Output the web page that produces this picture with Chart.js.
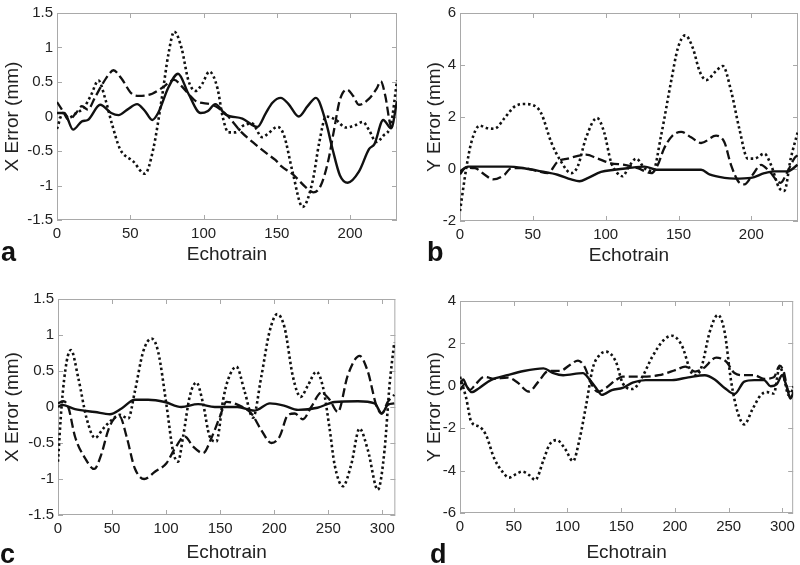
<!DOCTYPE html>
<html><head><meta charset="utf-8">
<script src="https://cdn.jsdelivr.net/npm/chart.js@4.4.1/dist/chart.umd.min.js"></script>
<style>
body{margin:0;background:#fff;width:800px;height:565px;position:relative;overflow:hidden;font-family:"Liberation Sans",Arial,sans-serif}
canvas{position:absolute}
.lbl{position:absolute;font-weight:bold;font-size:27px;color:#111;line-height:1}
</style></head><body>
<canvas id="ca" width="400" height="285" style="left:0;top:0"></canvas>
<canvas id="cb" width="400" height="285" style="left:400px;top:0"></canvas>
<canvas id="cc" width="400" height="280" style="left:0;top:285px"></canvas>
<canvas id="cd" width="400" height="280" style="left:400px;top:285px"></canvas>
<div class="lbl" style="left:1px;top:239px">a</div>
<div class="lbl" style="left:427px;top:239px">b</div>
<div class="lbl" style="left:0px;top:541px">c</div>
<div class="lbl" style="left:430px;top:541px">d</div>
<script>
// ---------- tick labels ----------
const xTicksAB = [0, 50, 100, 150, 200];
const xTicksCD = [0, 50, 100, 150, 200, 250, 300];
const yTicksX = [-1.5, -1, -0.5, 0, 0.5, 1, 1.5];
const yTicksB = [-2, 0, 2, 4, 6];
const yTicksD = [-6, -4, -2, 0, 2, 4];
const xLabel = "Echotrain";
const yLabelX = "X Error (mm)";
const yLabelY = "Y Error (mm)";

// ---------- panel a ----------
const aSolidX = [0,5,11,17,21,29.5,37,42,48,54.6,60,65,69,76,82.6,89.7,98,103,108,115,126.5,136.8,142.5,147,152.7,158,165,171,176.7,183.6,188,193,198.4,206,213,216.6,222.6,228,232];
const aSolidY = [0.05,0.05,-0.19,-0.07,-0.05,0.17,0.05,0.02,0.1,0.18,0.08,-0.05,0.05,0.42,0.62,0.33,0.05,0.08,0.18,0.03,-0.03,-0.15,0.05,0.2,0.27,0.18,0.0,0.15,0.27,-0.09,-0.47,-0.85,-0.96,-0.8,-0.47,-0.4,-0.05,-0.17,0.22];
const aDashX = [0,4,8,13,17,21,26,31,35,38.5,44,51,56,65,72,80,85,90,95,106,115,126,134,144,149,153,161,170,175,180,185,189,193,198,202,206,213,218,221,224,228,232];
const aDashY = [0.21,0.08,-0.05,0.05,0.15,0.1,0.28,0.47,0.6,0.67,0.55,0.33,0.3,0.33,0.42,0.53,0.44,0.32,0.22,0.17,0.04,-0.23,-0.38,-0.55,-0.63,-0.72,-0.84,-1.03,-1.1,-1.0,-0.65,-0.2,0.24,0.39,0.3,0.17,0.26,0.4,0.51,0.3,-0.14,-0.16];
const aDotX = [0,4,8,13,18,23,28.3,33,37.4,43,52,60,65.7,71.7,76,80,85,89.7,94.5,99,104,109.6,113,117,122,126.5,133,140,143.4,150.5,155,160.7,167.6,174.4,179,183.6,190.4,197,203,208.7,213,217.8,222.6,228,232];
const aDotY = [-0.18,0.05,-0.02,0.05,0.12,0.3,0.52,0.25,-0.1,-0.47,-0.65,-0.83,-0.47,0.29,0.9,1.23,0.99,0.52,0.37,0.47,0.65,0.4,0.0,-0.23,-0.23,-0.14,-0.1,-0.3,-0.26,-0.15,-0.28,-0.8,-1.31,-0.94,-0.37,0.0,-0.05,-0.16,-0.13,-0.08,-0.2,-0.37,-0.28,-0.1,0.52];

// ---------- panel b ----------
const bSolidX = [0,5.5,21,33,44,55.7,67,76.3,82,88,96.8,106,115,126.7,135,147,165.5,171.7,181.5,188.5,199.8,208.9,215.8,224.9,231.7];
const bSolidY = [-0.09,0.09,0.09,0.09,0.03,-0.09,-0.22,-0.4,-0.47,-0.34,-0.11,-0.03,0.03,0.09,-0.03,-0.03,-0.03,-0.22,-0.34,-0.37,-0.34,-0.16,-0.09,-0.09,0.16];
const bDashX = [0,4,10.3,17,22.6,30.6,35,44.3,53.4,60.3,67,74,86.5,94.5,103.6,113,122,131.3,135.8,140,145.8,151.8,158.6,165.5,175.8,181.5,186,191.8,195.2,200.9,206.6,212.3,220,224.9,229.4,231.7];
const bDashY = [-0.2,0.05,0.03,-0.22,-0.4,-0.22,0.03,0.03,-0.09,-0.16,0.28,0.4,0.55,0.4,0.22,0.16,0.03,-0.16,0.16,0.78,1.28,1.43,1.22,1.0,1.28,1.03,0.16,-0.53,-0.59,-0.22,0.16,-0.09,-0.53,-0.09,0.4,0.53];
const bDotX = [0,4.3,7.8,13.5,18,23.7,30.6,37.4,44.3,50,55.7,62.6,69.4,76.3,80.8,86.5,94,99,103.6,108,111.6,116,121,126.7,132.4,138,145,149.5,154.6,159.9,164.4,169,175.8,180.4,186,191.8,197.5,202,208.9,213.5,219,222.6,227,231.7];
const bDotY = [-1.62,0.03,1.03,1.67,1.58,1.55,1.96,2.4,2.5,2.46,2.15,1.03,0.28,-0.16,0.1,1.2,1.96,1.4,0.28,-0.16,-0.28,0.1,0.4,0.03,-0.09,1.28,3.4,4.64,5.14,4.64,3.77,3.42,3.77,3.96,3.02,1.53,0.4,0.4,0.59,0.15,-0.72,-0.84,0.4,1.4];

// ---------- panel c ----------
const cSolidX = [0,3.4,15.7,34.2,48,58.8,71,83.4,98.7,114,129.5,145,154,166,181.8,196,209,222,240,255.8,277.4,292.8,299.5,305,311];
const cSolidY = [0.0,0.03,-0.03,-0.07,-0.1,-0.02,0.1,0.1,0.07,0.0,0.04,0.0,0.0,0.0,-0.05,0.05,0.02,-0.04,-0.01,0.07,0.08,0.05,-0.09,0.03,0.05];
const cDashX = [0,5,9.5,15.7,25,33.5,40,46.5,52,57,63.4,71,79.7,89.6,100.3,108,117.3,125,134.2,141.9,149.6,155.8,166.4,178.8,188,197.3,205,212.7,218.9,226.5,234.2,243.5,251.2,258.8,268,278.9,286.6,294.3,299.5,305,311];
const cDashY = [0.05,0.08,0.0,-0.41,-0.71,-0.86,-0.66,-0.32,-0.16,-0.13,-0.41,-0.85,-1.0,-0.9,-0.78,-0.58,-0.41,-0.55,-0.64,-0.43,-0.14,0.07,0.03,-0.09,-0.32,-0.5,-0.41,-0.11,-0.09,-0.17,0.0,0.2,0.1,-0.07,0.44,0.71,0.49,0.03,-0.09,0.07,0.17];
const cDotX = [0,3.4,8,12,18.8,26.5,34.2,41.8,49.6,57.2,65,71,78.8,86.5,92.6,100.3,106.5,111,115.7,121.9,128,134,140.3,146.5,152.7,157.3,165,172.7,180.3,188,195.7,202.8,209.6,217.3,224.4,231.2,238.9,245,251.2,255.8,263.5,271.2,278.9,286.6,295.8,302,306.6,311];
const cDotY = [-0.76,0.03,0.63,0.79,0.4,-0.16,-0.43,-0.3,-0.18,-0.11,-0.16,0.21,0.77,0.95,0.77,0.03,-0.62,-0.76,-0.41,0.15,0.34,0.06,-0.41,-0.48,0.1,0.38,0.56,0.21,-0.15,0.42,1.05,1.29,1.1,0.42,0.14,0.3,0.49,0.28,-0.3,-0.8,-1.1,-0.8,-0.3,-0.6,-1.15,-0.6,0.3,0.9];

// ---------- panel d ----------
const dSolidX = [0,3,6,11,18,28.7,44,59.3,77.7,86.9,96,114.4,120.5,126.6,132,141.3,151.4,160.6,172.8,197.2,212.5,227.8,237,246.2,255.4,264.5,273.7,282.9,289,295.1,299.7,304.3,307.3,310.4];
const dSolidY = [0.1,0.3,0.0,-0.3,-0.1,0.27,0.5,0.7,0.82,0.6,0.5,0.6,0.3,-0.1,-0.43,-0.2,-0.1,0.15,0.27,0.27,0.4,0.5,0.3,-0.1,-0.39,0.2,0.27,0.27,-0.02,0.1,0.5,-0.1,-0.6,-0.3];
const dDashX = [0,5,9,15,22.6,31.8,44,53.2,64,73.1,82.3,93,102.2,109.8,115.9,122,128.1,135.8,145,151.4,169.7,185,200.3,209.5,218.7,226.3,238.5,247.7,255.4,264.5,273.7,282.9,292,297.5,301.2,305.8,310.4];
const dDashY = [-0.2,0.1,-0.2,0.1,0.43,0.33,0.39,0.17,-0.27,0.2,0.7,0.7,0.98,1.19,0.9,0.12,-0.28,-0.1,0.27,0.43,0.43,0.5,0.74,0.9,0.67,0.82,1.33,1.14,0.6,0.5,0.5,0.33,0.4,0.95,0.67,-0.28,-0.04];
const dDotX = [0,5.8,10.4,18,24.2,31.8,39.4,45.6,51,57.8,64,70,77.7,83,89.9,97.5,105.2,111.3,117.4,123.5,129,135.8,145,151.4,160.6,169.7,178.9,189.6,197.2,206.4,215.6,220,224.8,232.4,240,246.2,252.3,258.4,264.5,272.2,279.8,285.9,292,297.5,301.2,305.8,310.4];
const dDotY = [0.43,-0.59,-1.69,-1.93,-2.32,-3.42,-4.05,-4.33,-4.2,-4.05,-4.2,-4.44,-3.5,-2.8,-2.56,-2.95,-3.55,-2.5,-0.9,0.83,1.4,1.61,1.14,0.12,-0.15,0.43,1.37,2.16,2.36,1.9,0.6,0.5,0.9,2.55,3.34,2.55,0.2,-1.26,-1.82,-1.1,-0.44,-0.3,-0.36,0.9,0.43,-0.44,-0.13];

// ---------- drawing ----------
const FONT = "'Liberation Sans', Arial, sans-serif";
const TXT = '#222';
const LINE = '#111';

const boxTicks = {
  id: 'boxTicks',
  beforeDatasetsDraw(chart) {
    const {ctx, chartArea: a, scales} = chart;
    ctx.save();
    ctx.strokeStyle = '#a9a9a9';
    ctx.lineWidth = 1;
    ctx.strokeRect(a.left + 0.5, a.top + 0.5, a.width - 1, a.height - 1);
    const L = 5;
    ctx.beginPath();
    scales.x.ticks.forEach(t => {
      const p = Math.round(scales.x.getPixelForValue(t.value)) + 0.5;
      ctx.moveTo(p, a.bottom); ctx.lineTo(p, a.bottom - L);
      ctx.moveTo(p, a.top); ctx.lineTo(p, a.top + L);
    });
    scales.y.ticks.forEach(t => {
      const p = Math.round(scales.y.getPixelForValue(t.value)) + 0.5;
      ctx.moveTo(a.left, p); ctx.lineTo(a.left + L, p);
      ctx.moveTo(a.right, p); ctx.lineTo(a.right - L, p);
    });
    ctx.stroke();
    ctx.restore();
  }
};

function pts(xs, ys) { return xs.map((x, i) => ({x: x, y: ys[i]})); }

function makeChart(id, series, xMax, xTicks, yMin, yMax, yTicks, yTitle, g) {
  const styles = [[], [9, 4], [2.5, 2.8]];
  const widths = [2.4, 2.3, 2.6];
  new Chart(document.getElementById(id), {
    type: 'line',
    data: {
      datasets: series.map((s, i) => ({
        data: pts(s[0], s[1]),
        borderColor: LINE,
        borderWidth: widths[i],
        borderDash: styles[i],
        borderCapStyle: 'butt',
        pointRadius: 0,
        fill: false,
        cubicInterpolationMode: 'monotone'
      }))
    },
    options: {
      responsive: false,
      animation: false,
      devicePixelRatio: 1,
      layout: {padding: {left: 0, top: g.top, right: g.right, bottom: 0}},
      plugins: {legend: {display: false}, tooltip: {enabled: false}},
      scales: {
        x: {
          type: 'linear', min: 0, max: xMax,
          grid: {display: false, drawTicks: false},
          border: {display: false},
          afterBuildTicks: s => { s.ticks = xTicks.map(v => ({value: v})); },
          afterFit: s => { s.height = g.xh; },
          ticks: {color: TXT, font: {family: FONT, size: 15}, padding: g.xtp, maxRotation: 0, autoSkip: false,
                  callback: v => String(v)},
          title: {display: true, text: xLabel, color: TXT, font: {family: FONT, size: 19}, padding: {top: 0, bottom: g.xtb}}
        },
        y: {
          type: 'linear', min: yMin, max: yMax,
          grid: {display: false, drawTicks: false},
          border: {display: false},
          afterBuildTicks: s => { s.ticks = yTicks.map(v => ({value: v})); },
          afterFit: s => { s.width = g.left; },
          ticks: {color: TXT, font: {family: FONT, size: 15}, padding: 4, callback: v => String(v)},
          title: {display: true, text: yTitle, color: TXT, font: {family: FONT, size: 19}, padding: {top: g.ytp, bottom: 0}}
        }
      }
    },
    plugins: [boxTicks]
  });
}

makeChart('ca', [[aSolidX, aSolidY], [aDashX, aDashY], [aDotX, aDotY]], 232, xTicksAB, -1.5, 1.5, yTicksX, yLabelX,
  {left: 57, right: 3, top: 7, xh: 65, xtp: 5, xtb: 18.6, ytp: 1});
makeChart('cb', [[bSolidX, bSolidY], [bDashX, bDashY], [bDotX, bDotY]], 232, xTicksAB, -2, 6, yTicksB, yLabelY,
  {left: 60, right: 2, top: 7, xh: 64, xtp: 5, xtb: 17.6, ytp: 23.6});
makeChart('cc', [[cSolidX, cSolidY], [cDashX, cDashY], [cDotX, cDotY]], 312, xTicksCD, -1.5, 1.5, yTicksX, yLabelX,
  {left: 58, right: 3, top: 14, xh: 50, xtp: 5, xtb: 1, ytp: 1});
makeChart('cd', [[dSolidX, dSolidY], [dDashX, dDashY], [dDotX, dDotY]], 310, xTicksCD, -6, 4, yTicksD, yLabelY,
  {left: 60, right: 2, top: 16, xh: 52, xtp: 5, xtb: 1, ytp: 23.6});
</script>
</body></html>
